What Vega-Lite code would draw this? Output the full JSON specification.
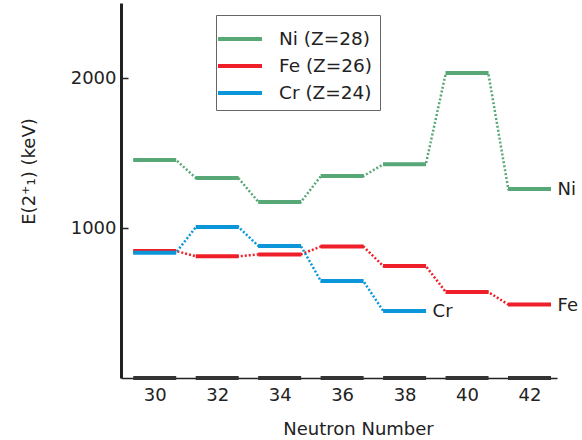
{
  "$schema": "https://vega.github.io/schema/vega-lite/v6.json",
  "width": 436,
  "height": 375,
  "autosize": "none",
  "padding": {"left": 121, "top": 3, "right": 25, "bottom": 62},
  "config": {
    "view": {"stroke": null},
    "font": "DejaVu Sans",
    "axis": {"grid": false, "labelFont": "DejaVu Sans", "titleFont": "DejaVu Sans", "labelColor": "#222", "titleColor": "#222", "labelFontSize": 18, "titleFontSize": 18, "titleFontWeight": "normal"}
  },
  "datasets": {
    "levels": [
      {"el": "Ni", "N": 30, "E": 1454},
      {"el": "Ni", "N": 32, "E": 1333},
      {"el": "Ni", "N": 34, "E": 1173},
      {"el": "Ni", "N": 36, "E": 1346},
      {"el": "Ni", "N": 38, "E": 1425},
      {"el": "Ni", "N": 40, "E": 2033},
      {"el": "Ni", "N": 42, "E": 1260},
      {"el": "Fe", "N": 30, "E": 847},
      {"el": "Fe", "N": 32, "E": 811},
      {"el": "Fe", "N": 34, "E": 824},
      {"el": "Fe", "N": 36, "E": 877},
      {"el": "Fe", "N": 38, "E": 746},
      {"el": "Fe", "N": 40, "E": 573},
      {"el": "Fe", "N": 42, "E": 490},
      {"el": "Cr", "N": 30, "E": 835},
      {"el": "Cr", "N": 32, "E": 1007},
      {"el": "Cr", "N": 34, "E": 880},
      {"el": "Cr", "N": 36, "E": 646},
      {"el": "Cr", "N": 38, "E": 446}
    ]
  },
  "data": {"name": "levels"},
  "layer": [
    {
      "transform": [
        {"calculate": "[-0.68, 0.68]", "as": "d"},
        {"flatten": ["d"]},
        {"calculate": "datum.N + datum.d", "as": "xp"}
      ],
      "mark": {"type": "line", "strokeDash": [2, 2], "strokeWidth": 2.5},
      "encoding": {
        "x": {"field": "xp", "type": "quantitative", "scale": {"domain": [28.92, 42.88], "nice": false, "zero": false}},
        "y": {"field": "E", "type": "quantitative"},
        "color": {
          "field": "el", "type": "nominal",
          "scale": {"domain": ["Ni", "Fe", "Cr"], "range": ["#58A777", "#EE1F28", "#0A96D8"]},
          "legend": {
            "title": null, "orient": "none", "legendX": 95, "legendY": 12,
            "symbolType": "M-1.5,0H1.5", "symbolSize": 860, "symbolStrokeWidth": 4, "symbolDash": [1, 0],
            "labelFontSize": 18.5, "labelFont": "DejaVu Sans", "labelColor": "#222", "labelOffset": 22,
            "rowPadding": -1.5, "strokeColor": "#666", "padding": 7,
            "labelExpr": "{'Ni':'Ni (Z=28)','Fe':'Fe (Z=26)','Cr':'Cr (Z=24)'}[datum.label]"
          }
        },
        "order": {"field": "xp", "type": "quantitative"}
      }
    },
    {
      "transform": [{"filter": "datum.el == 'Ni'"}],
      "mark": {"type": "tick", "orient": "horizontal", "size": 43, "thickness": 4, "color": "#333", "opacity": 1},
      "encoding": {
        "x": {"field": "N", "type": "quantitative"},
        "y": {"datum": 0}
      }
    },
    {
      "mark": {"type": "tick", "orient": "horizontal", "size": 43, "thickness": 4, "opacity": 1},
      "encoding": {
        "x": {
          "field": "N", "type": "quantitative",
          "axis": {"values": [30, 32, 34, 36, 38, 40, 42], "ticks": false, "domainColor": "#222", "domainWidth": 1.5, "labelPadding": 8, "title": "Neutron Number", "titlePadding": 16, "titleX": 237}
        },
        "y": {
          "field": "E", "type": "quantitative",
          "scale": {"domain": [0, 2500], "nice": false},
          "axis": {"values": [1000, 2000], "format": "d", "tickSize": -7, "tickWidth": 1.5, "tickColor": "#222", "domainColor": "#222", "domainWidth": 3, "labelPadding": 12, "title": "E(2⁺₁) (keV)", "titleX": -83, "titleY": 168}
        },
        "color": {"field": "el", "type": "nominal"}
      }
    },
    {
      "transform": [
        {"joinaggregate": [{"op": "max", "field": "N", "as": "maxN"}], "groupby": ["el"]},
        {"filter": "datum.N == datum.maxN"}
      ],
      "mark": {"type": "text", "align": "left", "baseline": "middle", "dx": 28, "dy": 1, "fontSize": 18, "color": "#222"},
      "encoding": {
        "x": {"field": "N", "type": "quantitative"},
        "y": {"field": "E", "type": "quantitative"},
        "text": {"field": "el"}
      }
    }
  ]
}
